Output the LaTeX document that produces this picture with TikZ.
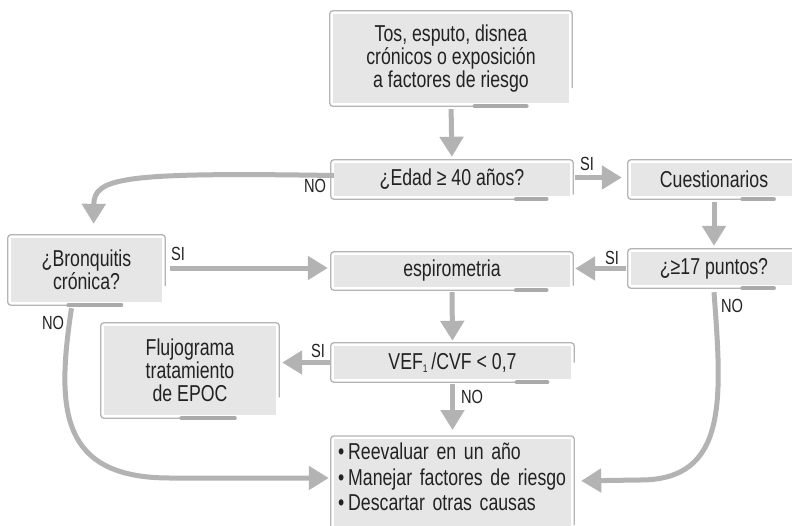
\documentclass[tikz,border=0pt]{standalone}
\usepackage{fontspec}
\setmainfont[FakeStretch=0.77]{Liberation Sans}
\usetikzlibrary{arrows.meta, calc}

\definecolor{boxfill}{HTML}{E6E6E6}
\definecolor{framecol}{HTML}{B4B4B4}
\definecolor{barcol}{HTML}{AAAAAA}
\definecolor{arrowcol}{HTML}{B3B3B3}
\definecolor{txt}{HTML}{222222}

\tikzset{
  box/.style = {fill=boxfill, text=txt, inner sep=0pt, align=center,
                font=\fontsize{23}{23}\selectfont},
  frame/.style = {draw=framecol, line width=1.3pt, rounded corners=3pt},
  bar/.style = {draw=barcol, line width=4pt, line cap=round},
  flow/.style = {draw=arrowcol, line width=5pt,
                 -{Triangle[width=23pt,length=20pt]}},
  lab/.style = {text=txt, inner sep=0pt, font=\fontsize{19}{19}\selectfont}
}

\begin{document}
\begin{tikzpicture}[x=1pt, y=-1pt]
\clip (0,0) rectangle (792,525);
\fill[white] (0,0) rectangle (792,525);

% boxes
\node[box, minimum width=236, minimum height=89] (top) at (451,58.5)
  {Tos, esputo, disnea\\crónicos o exposición\\a factores de riesgo};
\node[box, minimum width=236, minimum height=33] (edad) at (452,179.5) {¿Edad ≥ 40 años?};
\node[box, minimum width=166, minimum height=33] (cuest) at (714,179.5) {Cuestionarios};
\node[box, minimum width=151, minimum height=64] (bron) at (86.5,270) {¿Bronquitis\\crónica?};
\node[box, minimum width=236, minimum height=32] (espi) at (452,271) {espirometria};
\node[box, minimum width=166, minimum height=33] (pts) at (714,268.5) {¿≥17 puntos?};
\node[box, minimum width=172, minimum height=89] (fluj) at (190,370.5) {Flujograma\\tratamiento\\de EPOC};
\node[box, minimum width=237, minimum height=33] (vef) at (452.5,362.5)
  {VEF\raisebox{-3pt}{\fontsize{11}{11}\selectfont 1}\,/CVF < 0,7};
\node[box, anchor=north, minimum width=237, align=left,
      text width=229pt, inner xsep=4pt, inner ysep=4pt,
      font=\fontsize{23}{25.5}\selectfont] (bot) at (452.5,439)
  {\textbullet\hspace{4pt}Reevaluar en un año\\
   \textbullet\hspace{4pt}Manejar factores de riesgo\\
   \textbullet\hspace{4pt}Descartar otras causas\par\vspace{14pt}};

% frames and bars
\foreach \n/\a/\b/\f in {top/.60/.82/.83, edad/.77/.90/.95, cuest/.67/.86/.9,
    bron/.38/.73/.75, espi/.77/.90/.95, pts/.67/.86/.9, fluj/.45/.76/.8,
    vef/.77/.90/.5, bot/.6/.8/.95}{
  \draw[frame] ([xshift=3pt]$(\n.north east)!\f!(\n.south east)$)
    -- ([xshift=3pt,yshift=3pt]\n.north east)
    -- ([xshift=-3pt,yshift=3pt]\n.north west)
    -- ([xshift=-3pt,yshift=-3pt]\n.south west)
    -- ([yshift=-3pt]$(\n.south west)!\a!(\n.south east)$);
  \draw[bar] ([yshift=-3pt]$(\n.south west)!\a!(\n.south east)$)
    -- ([yshift=-3pt]$(\n.south west)!\b!(\n.south east)$);
}

% arrows
\draw[flow, shorten <=6pt, shorten >=6pt] (top.south) -- (edad.north);
\draw[flow, shorten <=5pt, shorten >=9pt] ([yshift=2pt]edad.east) -- ([yshift=2pt]cuest.west);
\draw[flow, shorten <=6pt, shorten >=6pt] (cuest.south) -- (pts.south |- pts.north);
\draw[flow, shorten <=5pt, shorten >=5pt] (pts.west) -- (pts.west -| espi.east);
\draw[flow, shorten <=8pt, shorten >=6pt] ([yshift=2pt]bron.east) -- ([yshift=2pt]bron.east -| espi.west);
\draw[flow, shorten <=5pt, shorten >=5pt] (espi.south) -- (vef.north);
\draw[flow, shorten <=4pt, shorten >=6pt] (vef.west) -- (vef.west -| fluj.east);
\draw[flow, shorten <=5pt, shorten >=9pt] (vef.south) -- (bot.north);
\draw[flow, shorten >=14pt] ([yshift=4pt]edad.west)
  .. controls (120,172) and (94,178) .. ([xshift=7pt]bron.north);
\draw[flow, shorten >=5pt] ([xshift=-15pt,yshift=-6pt]bron.south)
  .. controls (56,410) and (60,478) .. (170,478) -- (bot.west |- 0,478);
\draw[flow, shorten >=10pt] ([yshift=-7pt]pts.south)
  .. controls (722,400) and (728,480) .. (640,480) -- (bot.east |- 0,481);

% labels
\node[lab] (si1) at (587,164) {SI};
\node[lab] (no1) at (315,186) {NO};
\node[lab] (si2) at (178,254) {SI};
\node[lab] (si3) at (612,258) {SI};
\node[lab] (no2) at (732,306) {NO};
\node[lab] (si4) at (318,351) {SI};
\node[lab] (no3) at (472,397) {NO};
\node[lab] (no4) at (53,323) {NO};
\end{tikzpicture}
\end{document}
